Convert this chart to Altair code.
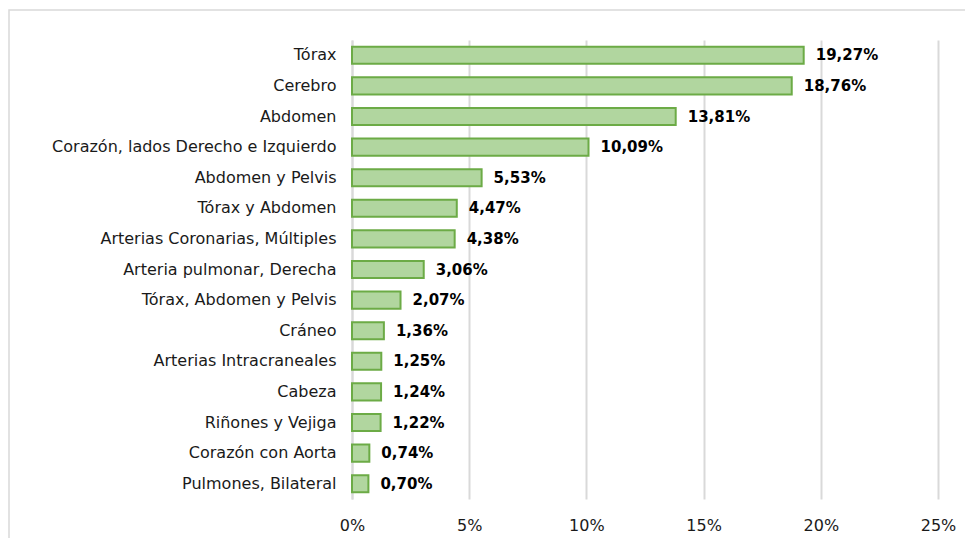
import altair as alt
import pandas as pd

categories = [
    "Tórax", "Cerebro", "Abdomen", "Corazón, lados Derecho e Izquierdo",
    "Abdomen y Pelvis", "Tórax y Abdomen", "Arterias Coronarias, Múltiples",
    "Arteria pulmonar, Derecha", "Tórax, Abdomen y Pelvis", "Cráneo",
    "Arterias Intracraneales", "Cabeza", "Riñones y Vejiga",
    "Corazón con Aorta", "Pulmones, Bilateral",
]
values = [19.27, 18.76, 13.81, 10.09, 5.53, 4.47, 4.38, 3.06, 2.07, 1.36,
          1.25, 1.24, 1.22, 0.74, 0.70]
x_ticks = [0, 5, 10, 15, 20, 25]

df = pd.DataFrame({
    "cat": categories,
    "val": values,
    "label": [f"{v:.2f}".replace(".", ",") + "%" for v in values],
})

FONT = "DejaVu Sans"

base = alt.Chart(df)

y_enc = alt.Y("cat:N", sort=categories, title=None,
              scale=alt.Scale(paddingInner=0.44, paddingOuter=0.22),
              axis=alt.Axis(labelFont=FONT, labelFontSize=16, labelColor="#1a1a1a",
                            labelPadding=16, ticks=False, domainColor="#d9d9d9",
                            domainWidth=2, labelLimit=400))

x_enc = alt.X("val:Q", title=None,
              scale=alt.Scale(domain=[0, 25], nice=False),
              axis=alt.Axis(values=x_ticks, labelExpr="datum.value + '%'",
                            labelFont=FONT, labelFontSize=16, labelColor="#1a1a1a",
                            labelPadding=18, labelFlush=False, ticks=False, domain=False,
                            grid=True, gridColor="#d9d9d9", gridWidth=2))

bars = base.mark_bar(fill="#b1d69f", stroke="#6cab46", strokeWidth=2).encode(
    x=x_enc, y=y_enc)

text = base.mark_text(align="left", baseline="middle", dx=12, font=FONT,
                      fontSize=15, fontWeight="bold", color="#000000").encode(
    x="val:Q", y=alt.Y("cat:N", sort=categories), text="label:N")

frame = alt.Chart(pd.DataFrame({"a": [0]})).mark_rect(
    fill=None, stroke="#d9d9d9", strokeWidth=1.5).encode(
    x=alt.value(-343), x2=alt.value(800), y=alt.value(-30), y2=alt.value(700))

chart = alt.layer(frame, bars, text).properties(
    width=586, height=459,
    padding={"left": 344, "top": 32, "right": 27, "bottom": 39},
    autosize="none",
).configure_view(stroke=None)

chart.save("out.html", embed_options={"renderer": "svg", "actions": False})
